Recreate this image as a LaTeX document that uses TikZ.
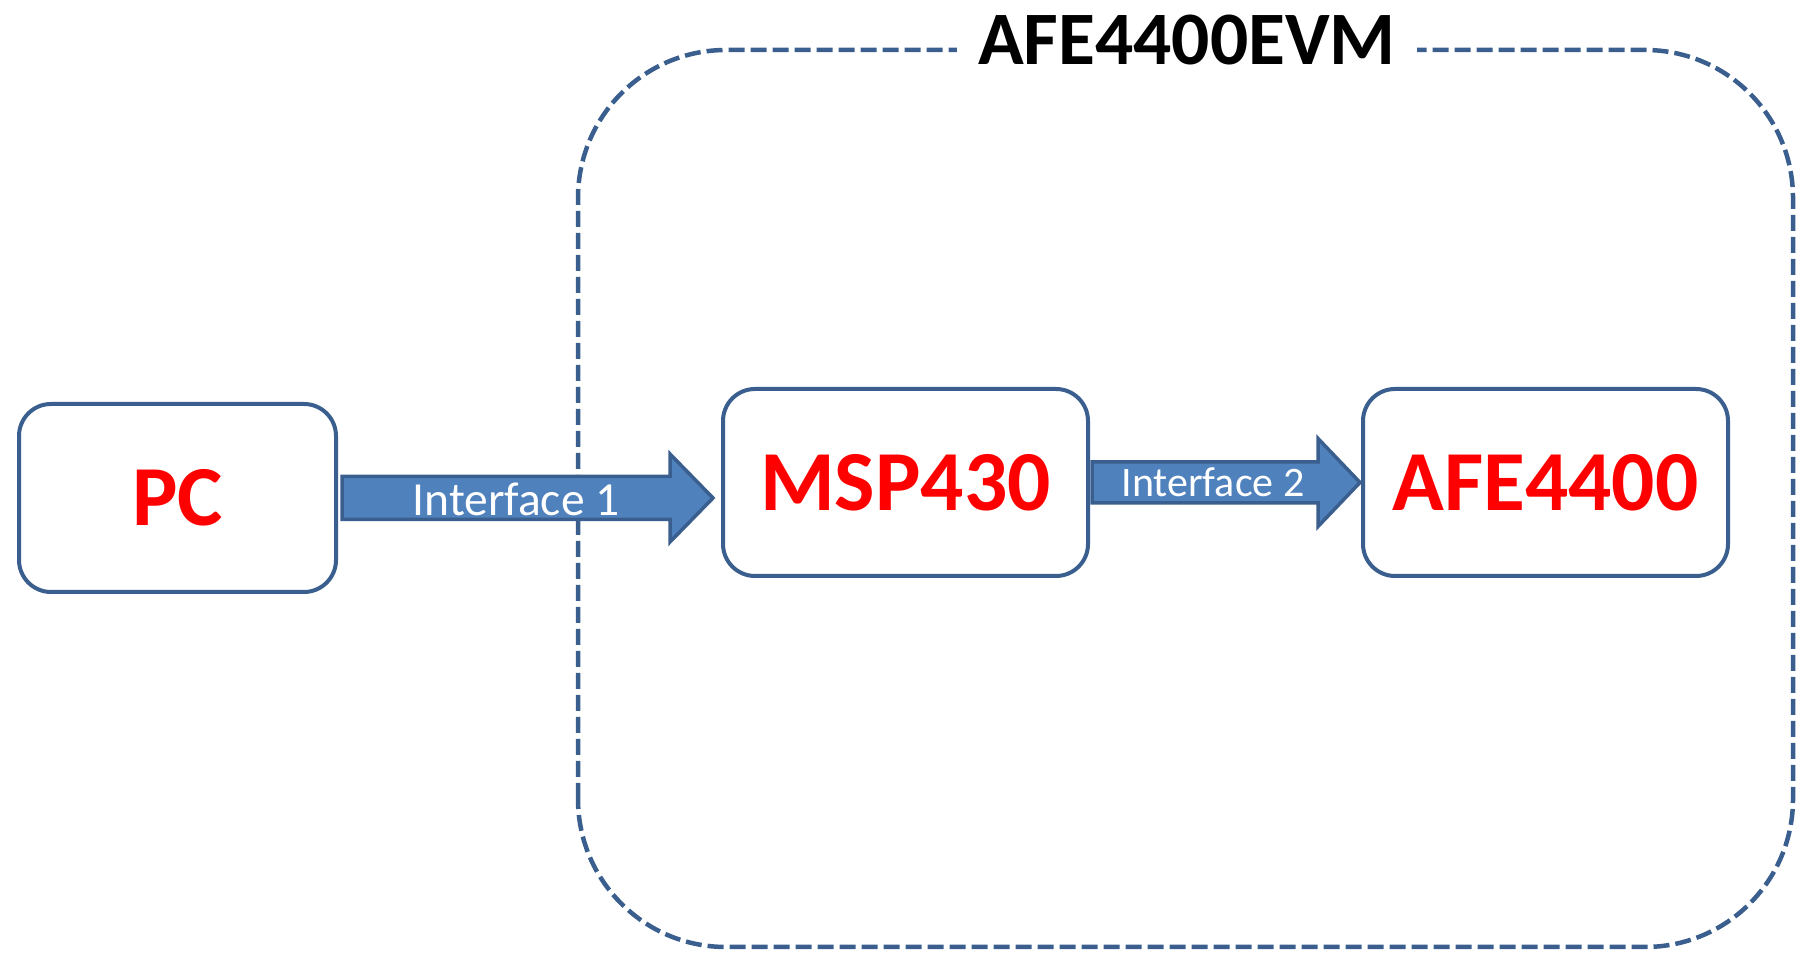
\documentclass[tikz,border=0pt]{standalone}
\usepackage{fontspec}
\setmainfont{Carlito}
\usetikzlibrary{calc}
\definecolor{edgeblue}{HTML}{3A5F8E}
\definecolor{fillblue}{HTML}{4F81BD}
\definecolor{txtred}{HTML}{FF0000}
\tikzset{
  blockbox/.style={draw=edgeblue, line width=4pt, rounded corners=32pt, fill=white,
    inner sep=0pt, font=\fontsize{85.5}{90}\selectfont\bfseries, text=txtred},
  barrow/.style={draw=edgeblue, line width=3.5pt, fill=fillblue, line join=miter},
  arrowlabel/.style={text=white, inner sep=0pt},
  evmframe/.style={draw=edgeblue, line width=4.5pt, dash pattern=on 16pt off 6pt, rounded corners=148pt}
}
\begin{document}
\begin{tikzpicture}[x=1pt,y=1pt]
\useasboundingbox (0,0) rectangle (1806,957);
% dashed frame
\draw[evmframe] (578,10) rectangle (1793,907);
\node[fill=white, inner xsep=21pt, inner ysep=4pt, anchor=base, font=\fontsize{75.5}{82}\selectfont\bfseries] (title) at (1187,892) {AFE4400EVM};
% boxes
\node[blockbox, minimum width=317pt, minimum height=188pt] (pc) at (177.5,459) {PC};
\node[blockbox, minimum width=365pt, minimum height=187pt] (msp) at (905.5,474.5) {MSP430};
\node[blockbox, minimum width=365pt, minimum height=187pt] (afe) at (1545.5,474.5) {AFE4400};
% arrow 1
\coordinate (a1s) at ($(pc.east)+(4,0)$);
\coordinate (a1t) at ($(pc.east -| msp.west)+(-8,0)$);
\draw[barrow] ($(a1s)+(0,21.5)$) -- ($(a1t)+(-43,21.5)$) -- ($(a1t)+(-43,44)$) -- (a1t)
  -- ($(a1t)+(-43,-44)$) -- ($(a1t)+(-43,-21.5)$) -- ($(a1s)+(0,-21.5)$) -- cycle;
\node[arrowlabel, font=\fontsize{47.5}{52}\selectfont] (l1) at (516,458) {Interface 1};
% arrow 2
\coordinate (a2s) at ($(msp.east)+(2,0)$);
\coordinate (a2t) at ($(afe.west)+(-1,0)$);
\draw[barrow] ($(a2s)+(0,20.5)$) -- ($(a2t)+(-42,20.5)$) -- ($(a2t)+(-42,44)$) -- (a2t)
  -- ($(a2t)+(-42,-44)$) -- ($(a2t)+(-42,-20.5)$) -- ($(a2s)+(0,-20.5)$) -- cycle;
\node[arrowlabel, font=\fontsize{42}{46}\selectfont] (l2) at (1213,475) {Interface 2};
\end{tikzpicture}
\end{document}
